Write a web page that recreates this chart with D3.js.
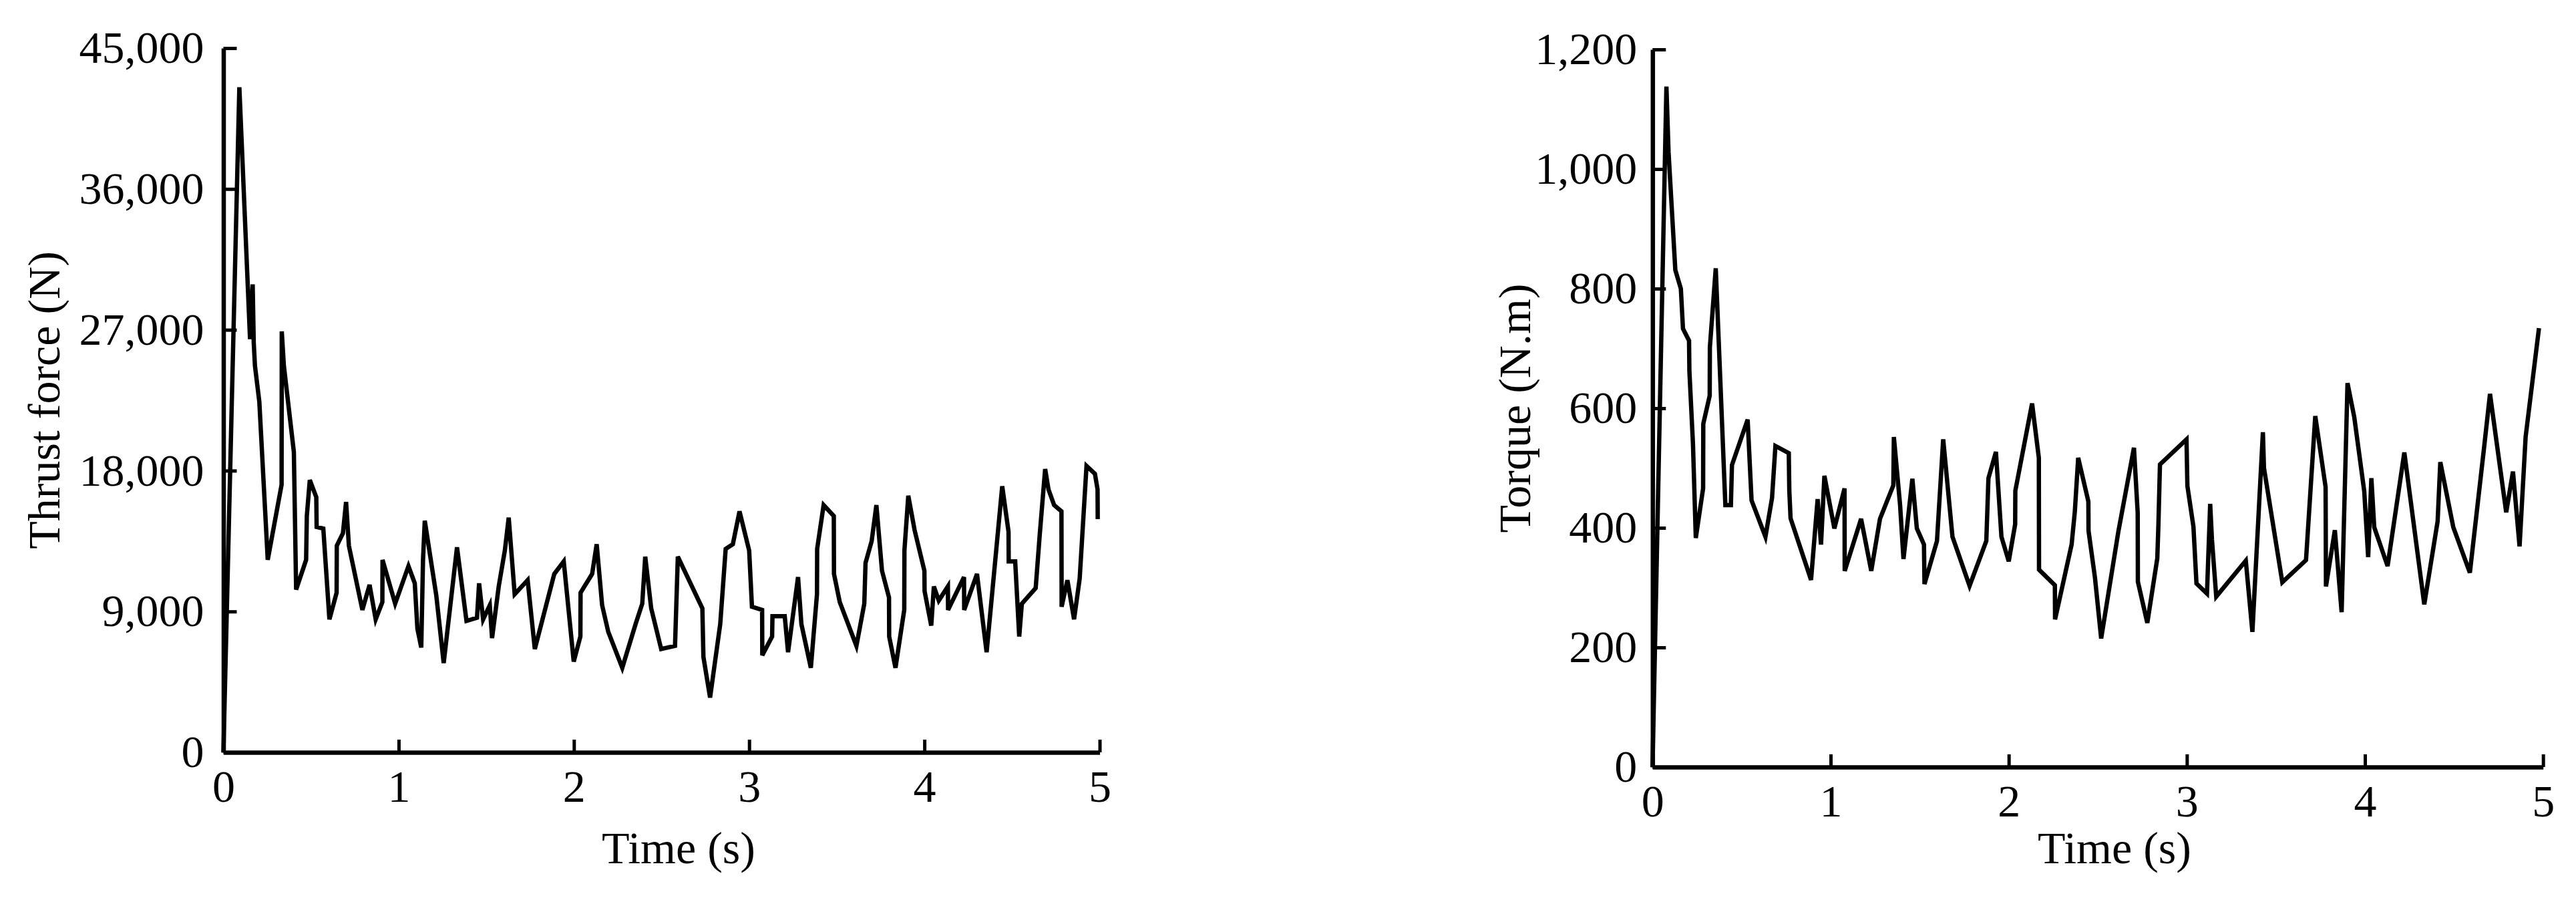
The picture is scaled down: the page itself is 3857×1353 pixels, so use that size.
<!DOCTYPE html>
<html>
<head>
<meta charset="utf-8">
<script src="https://d3js.org/d3.v7.min.js"></script>
<style>
  body { margin: 0; background: #fff; }
  svg text { font-family: "Liberation Serif", "Times New Roman", serif; fill: #000; }
</style>
</head>
<body>
<svg id="chart"></svg>
<script>
var timeTicks = [0, 1, 2, 3, 4, 5];
var thrustTicks = [0, 9000, 18000, 27000, 36000, 45000];
var torqueTicks = [0, 200, 400, 600, 800, 1000, 1200];

var thrustTime = [0, 0.091, 0.152, 0.167, 0.173, 0.180, 0.205, 0.253, 0.332, 0.333, 0.345, 0.402, 0.415, 0.472, 0.476, 0.493, 0.530, 0.532,
  0.570, 0.605, 0.646, 0.647, 0.682, 0.700, 0.716, 0.793, 0.834, 0.869, 0.907, 0.908, 0.980, 1.056, 1.092, 1.107, 1.129, 1.139, 1.149,
  1.215, 1.257, 1.333, 1.387, 1.447, 1.459, 1.482, 1.520, 1.533, 1.571, 1.606, 1.628, 1.662, 1.736, 1.777, 1.888, 1.942, 1.999, 2.037,
  2.038, 2.104, 2.130, 2.161, 2.196, 2.276, 2.352, 2.390, 2.407, 2.441, 2.498, 2.577, 2.593, 2.733, 2.739, 2.777, 2.835, 2.866, 2.907,
  2.945, 3.000, 3.016, 3.074, 3.075, 3.131, 3.133, 3.203, 3.222, 3.279, 3.298, 3.352, 3.387, 3.388, 3.425, 3.483, 3.484, 3.517, 3.612,
  3.657, 3.664, 3.699, 3.726, 3.758, 3.798, 3.799, 3.835, 3.885, 3.886, 3.908, 3.944, 4.000, 4.001, 4.039, 4.054, 4.082, 4.134, 4.135,
  4.226, 4.227, 4.300, 4.355, 4.444, 4.480, 4.481, 4.518, 4.541, 4.556, 4.635, 4.658, 4.689, 4.708, 4.740, 4.782, 4.783, 4.816, 4.854,
  4.886, 4.925, 4.973, 4.988, 4.989];
var thrustForce = [0, 42500, 26400, 29900, 26200, 24700, 22400, 12300, 17100, 26900, 24700, 19200, 10400, 12300, 15100, 17400, 16300, 14400,
  14300, 8500, 10200, 13200, 14000, 16000, 13200, 9100, 10700, 8500, 9600, 12300, 9500, 11900, 10800, 7900, 6700, 12300, 14800,
  10000, 5700, 13100, 8400, 8600, 10800, 8500, 9400, 7300, 10600, 12900, 15000, 10100, 11000, 6600, 11400, 12200, 5800, 7400,
  10200, 11400, 13300, 9400, 7700, 5400, 8200, 9500, 12500, 9200, 6600, 6800, 12500, 9200, 6100, 3500, 8200, 13000, 13300,
  15400, 12900, 9300, 9100, 6200, 7400, 8700, 8700, 6400, 11200, 8200, 5400, 10100, 13000, 15800, 15100, 11400, 9600, 6800,
  9500, 12100, 13500, 15800, 11600, 9900, 7400, 5400, 9100, 12900, 16400, 14200, 11600, 10300, 8100, 10600, 9700, 10600, 9100,
  11200, 9100, 11400, 6400, 17000, 14100, 12200, 12200, 7400, 9500, 10500, 13900, 18100, 16800, 15800, 15400, 9300, 11000, 8500,
  11100, 18300, 17800, 16800, 14900];

var torqueTime = [0, 0.078, 0.090, 0.128, 0.159, 0.171, 0.205, 0.207, 0.227, 0.243, 0.284, 0.285, 0.321, 0.322, 0.355, 0.409, 0.440, 0.446,
  0.534, 0.556, 0.634, 0.671, 0.690, 0.765, 0.768, 0.775, 0.890, 0.927, 0.946, 0.965, 1.021, 1.078, 1.079, 1.171, 1.228, 1.277, 1.352,
  1.355, 1.390, 1.409, 1.459, 1.484, 1.524, 1.527, 1.597, 1.632, 1.684, 1.780, 1.874, 1.886, 1.928, 1.959, 2.000, 2.036, 2.037, 2.131,
  2.169, 2.170, 2.259, 2.260, 2.353, 2.371, 2.390, 2.447, 2.448, 2.484, 2.519, 2.615, 2.703, 2.724, 2.725, 2.778, 2.834, 2.840, 2.849,
  2.998, 3.003, 3.037, 3.054, 3.113, 3.131, 3.141, 3.165, 3.331, 3.368, 3.427, 3.433, 3.536, 3.669, 3.721, 3.779, 3.781, 3.831, 3.869,
  3.902, 3.940, 3.996, 4.018, 4.036, 4.052, 4.127, 4.221, 4.333, 4.408, 4.423, 4.496, 4.589, 4.671, 4.702, 4.793, 4.831, 4.868, 4.902,
  4.977];
var torqueValue = [0, 1138, 1028, 831, 800, 733, 713, 662, 541, 383, 466, 574, 621, 702, 834, 438, 438, 505,
  581, 446, 385, 450, 537, 525, 462, 416, 313, 448, 372, 487, 399, 466, 328, 415, 328, 415, 471,
  552, 438, 348, 482, 399, 372, 306, 378, 548, 385, 303, 378, 483, 527, 385, 344, 406, 462, 608,
  517, 330, 304, 247, 372, 427, 517, 444, 395, 317, 215, 393, 534, 425, 310, 241, 349, 402, 506,
  548, 470, 402, 307, 290, 440, 380, 285, 345, 226, 560, 500, 309, 346, 587, 468, 302, 396, 259,
  642, 585, 461, 351, 483, 401, 336, 526, 272, 411, 510, 401, 325, 540, 624, 426, 494, 369, 552,
  734];

var width = 3857, height = 1353;
var svg = d3.select("#chart").attr("width", width).attr("height", height);
svg.append("rect").attr("width", width).attr("height", height).attr("fill", "#fff");

function drawPanel(cfg) {
  var x = d3.scaleLinear().domain([0, 5]).range(cfg.xRange);
  var y = d3.scaleLinear().domain(cfg.yDomain).range(cfg.yRange);

  var line = d3.line()
    .x(function(d) { return x(d[0]); })
    .y(function(d) { return y(d[1]); });

  var pts = cfg.times.map(function(t, i) { return [t, cfg.values[i]]; });

  svg.append("path")
    .datum(pts)
    .attr("fill", "none")
    .attr("stroke", "#000")
    .attr("stroke-width", 6.5)
    .attr("stroke-linejoin", "miter")
    .attr("d", line);

  var xAxis = svg.append("g")
    .attr("transform", "translate(0," + cfg.yRange[0] + ")")
    .call(d3.axisBottom(x).tickValues(timeTicks).tickFormat(d3.format("d"))
      .tickSizeInner(-19).tickSizeOuter(0).tickPadding(26));

  var yAxis = svg.append("g")
    .attr("transform", "translate(" + cfg.xRange[0] + ",0)")
    .call(d3.axisLeft(y).tickValues(cfg.ticks).tickFormat(d3.format(","))
      .tickSizeInner(-20).tickSizeOuter(0).tickPadding(cfg.pad));

  [xAxis, yAxis].forEach(function(g) {
    g.select(".domain").attr("stroke", "#000").attr("stroke-width", 6.5);
    g.selectAll(".tick line").attr("stroke", "#000").attr("stroke-width", 5);
    g.selectAll(".tick text")
      .attr("fill", "#000")
      .style("font-family", "'Liberation Serif', serif")
      .style("font-size", "68px");
  });

  svg.append("text")
    .attr("x", cfg.xLabelX)
    .attr("y", 1292)
    .attr("text-anchor", "middle")
    .style("font-size", "68px")
    .text("Time (s)");

  svg.append("text")
    .attr("transform", "translate(" + cfg.yLabelX + "," + ((cfg.yRange[0] + cfg.yRange[1]) / 2) + ") rotate(-90)")
    .attr("text-anchor", "middle")
    .style("font-size", "68px")
    .text(cfg.yLabel);
}

drawPanel({
  times: thrustTime, values: thrustForce, ticks: thrustTicks,
  xRange: [334.5, 1646.5], yDomain: [0, 45000], yRange: [1126, 72],
  pad: 29, xLabelX: 1016, yLabelX: 89, yLabel: "Thrust force (N)"
});

drawPanel({
  times: torqueTime, values: torqueValue, ticks: torqueTicks,
  xRange: [2474.3, 3807.7], yDomain: [0, 1200], yRange: [1148, 74],
  pad: 23, xLabelX: 3166, yLabelX: 2291, yLabel: "Torque (N.m)"
});
</script>
</body>
</html>
